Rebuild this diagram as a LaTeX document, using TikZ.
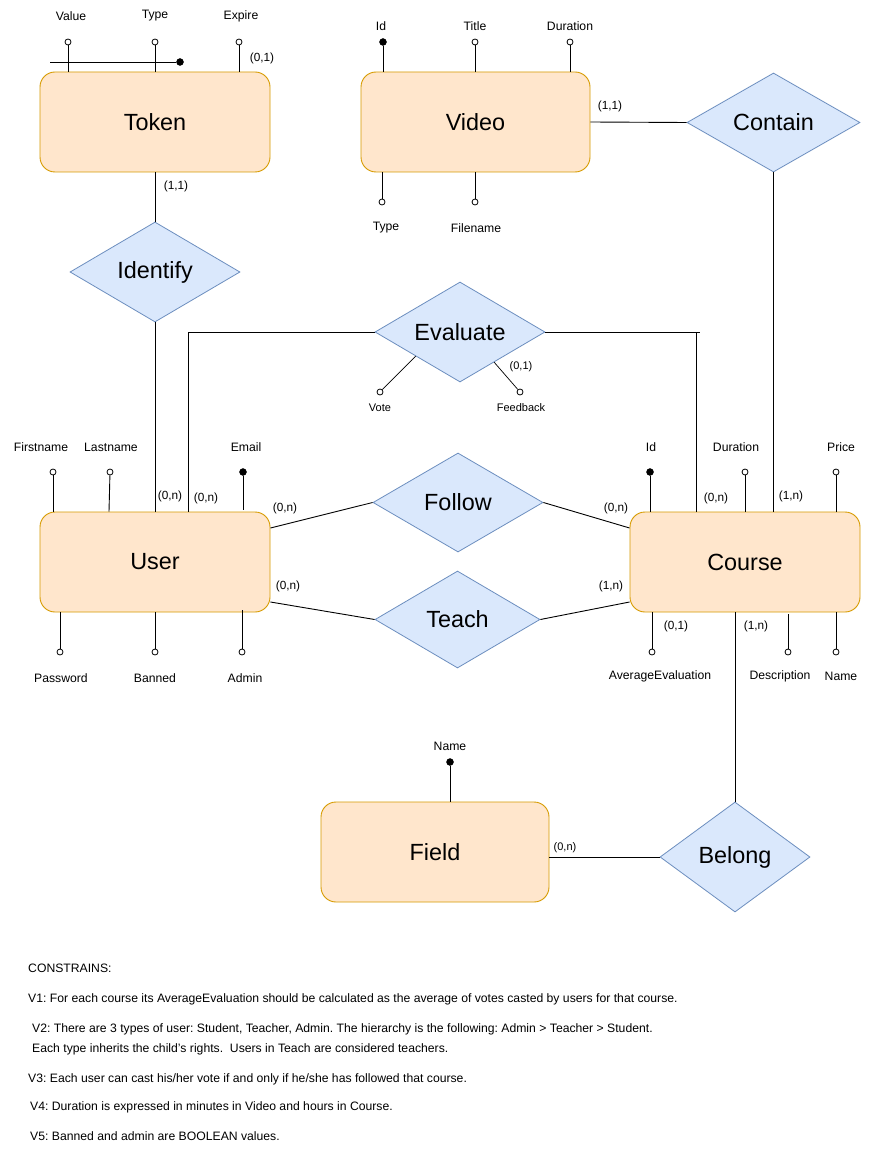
\documentclass[tikz,border=0pt]{standalone}
\usepackage{fontspec}
\setmainfont{Liberation Sans}
\usetikzlibrary{shapes.geometric,calc}
\definecolor{entfill}{HTML}{FFE6CC}
\definecolor{entdraw}{HTML}{D79B00}
\definecolor{relfill}{HTML}{DAE8FC}
\definecolor{reldraw}{HTML}{6C8EBF}
\frenchspacing
\begin{document}
\begin{tikzpicture}[x=1pt,y=-1pt,
 entity/.style={draw=entdraw,fill=entfill,rounded corners=15pt,minimum width=230pt,minimum height=100pt,inner sep=0pt,font=\fontsize{23.4}{28}\selectfont,line width=0.9pt},
 rel/.style={diamond,draw=reldraw,fill=relfill,inner sep=0pt,aspect=1.7,font=\fontsize{23.4}{28}\selectfont,line width=0.8pt},
 attr/.style={circle,draw=black,fill=white,inner sep=0pt,minimum size=6pt,line width=0.8pt},
 keyattr/.style={circle,draw=black,fill=black,inner sep=0pt,minimum size=7pt},
 lbl/.style={inner sep=0pt,font=\fontsize{12.2}{14}\selectfont},
 small/.style={inner sep=0pt,font=\fontsize{11}{13}\selectfont},
 card/.style={inner sep=0pt,font=\fontsize{11.8}{14}\selectfont},
 conn/.style={line width=0.9pt},
 note/.style={inner sep=0pt,anchor=base west,font=\fontsize{12.2}{14}\selectfont},
]
\useasboundingbox[fill=white] (0,0) rectangle (870,1150);

% entities
\node[entity] (token) at (155,122) {Token};
\node[entity,minimum width=229pt] (video) at (475.5,122) {Video};
\node[entity] (user) at (155,562) {User};
\node[entity] (course) at (745,562) {Course};
\node[entity,minimum width=228pt] (field) at (435,852) {Field};

% relations
\node[rel,minimum width=170pt,minimum height=100pt] (identify) at (155,272) {Identify};
\node[rel,minimum width=173pt,minimum height=99pt] (contain) at (773.5,122.5) {Contain};
\node[rel,minimum width=170pt,minimum height=100pt] (evaluate) at (460,332) {Evaluate};
\node[rel,minimum width=170pt,minimum height=99pt] (follow) at (458,502.5) {Follow};
\node[rel,minimum width=165pt,minimum height=97pt] (teach) at (457.5,619.5) {Teach};
\node[rel,minimum width=150pt,minimum height=110pt] (belong) at (735,857) {Belong};

% relation connectors
\draw[conn] (token.south) -- (identify.north);
\draw[conn] (identify.south) -- (user.north);
\draw[conn] (video.east) -- (contain.west);
\draw[conn] (contain.south) -- (contain.south |- course.north);
\coordinate (userEv) at ($(user.north)+(33,0)$);
\coordinate (courseEv) at ($(course.north)+(-49,0)$);
\coordinate (evEnd) at ($(courseEv |- evaluate.east)+(4,0)$);
\draw[conn] (evaluate.west) -| (userEv);
\draw[conn] (evaluate.east) -- (evEnd);
\draw[conn] (courseEv |- evaluate.east) -- (courseEv);
\coordinate (userFo) at ($(user.east)+(0,-34)$);
\coordinate (courseFo) at ($(course.west)+(0,-34)$);
\draw[conn] (userFo) -- (follow.west);
\draw[conn] (follow.east) -- (courseFo);
\coordinate (userTe) at ($(user.east)+(0,40)$);
\coordinate (courseTe) at ($(course.west)+(0,40)$);
\draw[conn] (userTe) -- (teach.west);
\draw[conn] (teach.east) -- (courseTe);
\draw[conn] (belong.north |- course.south) -- (belong.north);
\draw[conn] (belong.west) -- (belong.west -| field.east);

% Token attributes
\node[attr] (tValue) at (68,42) {};
\node[attr] (tType) at (155,42) {};
\node[attr] (tExpire) at (239,42) {};
\node[keyattr] (tKey) at (180,62) {};
\coordinate (tKeyL) at (50,62);
\draw[conn] (tValue) -- (tValue |- token.north);
\draw[conn] (tType) -- (tType |- token.north);
\draw[conn] (tExpire) -- (tExpire |- token.north);
\draw[conn] (tKeyL) -- (tKey);
\node[lbl] (tValueL) at (71,16) {Value};
\node[lbl] (tTypeL) at (155,16) {Type};
\node[lbl] (tExpireL) at (241,16) {Expire};
\node[card] (cTok1) at (262,58) {(0,1)};
\node[card] (cTok2) at (176,186) {(1,1)};

% Video attributes
\node[keyattr] (vId) at (383,42) {};
\node[attr] (vTitle) at (475,42) {};
\node[attr] (vDur) at (570,42) {};
\node[attr] (vType) at (382,202) {};
\node[attr] (vFile) at (475,202) {};
\draw[conn] (vId) -- (vId |- video.north);
\draw[conn] (vTitle) -- (vTitle |- video.north);
\draw[conn] (vDur) -- (vDur |- video.north);
\draw[conn] (vType) -- (vType |- video.south);
\draw[conn] (vFile) -- (vFile |- video.south);
\node[lbl] (vIdL) at (381,26) {Id};
\node[lbl] (vTitleL) at (475,26) {Title};
\node[lbl] (vDurL) at (570,26) {Duration};
\node[lbl] (vTypeL) at (386,228) {Type};
\node[lbl] (vFileL) at (476,228) {Filename};
\node[card] (cVid) at (610,106) {(1,1)};
\node[card] (cCon) at (791,496) {(1,n)};

% Evaluate attributes
\node[attr] (eVote) at (380,392) {};
\node[attr] (eFeed) at (520,392) {};
\draw[conn,line width=0.7pt] ($(evaluate.west)!0.48!(evaluate.south)$) -- (eVote);
\draw[conn,line width=0.7pt] ($(evaluate.south)!0.4!(evaluate.east)$) -- (eFeed);
\node[small] (eVoteL) at (380,408) {Vote};
\node[small] (eFeedL) at (521,408) {Feedback};
\node[small] (cEv) at (521,367) {(0,1)};

% User attributes
\node[attr] (uFirst) at (53,472) {};
\node[attr] (uLast) at (110,472) {};
\node[keyattr] (uEmail) at (243,472) {};
\node[attr] (uPass) at (60,652) {};
\node[attr] (uBan) at (155,652) {};
\node[attr] (uAdm) at (242,652) {};
\draw[conn] (uFirst) -- (uFirst |- user.north);
\draw[conn] (uLast) -- ($(uLast |- user.north)+(-1,0)$);
\draw[conn] (uEmail) -- ($(uEmail |- user.north)+(0,-2)$);
\draw[conn] (uPass) -- (uPass |- user.south);
\draw[conn] (uBan) -- (uBan |- user.south);
\draw[conn] (uAdm) -- ($(uAdm |- user.south)+(0,-2)$);
\node[lbl] (uFirstL) at (41,447) {Firstname};
\node[lbl] (uLastL) at (111,447) {Lastname};
\node[lbl] (uEmailL) at (246,447) {Email};
\node[lbl] (uPassL) at (61,678) {Password};
\node[lbl] (uBanL) at (155,678) {Banned};
\node[lbl] (uAdmL) at (245,678) {Admin};
\node[card] (cU1) at (170,496) {(0,n)};
\node[card] (cU2) at (206,498) {(0,n)};
\node[card] (cU3) at (285,508) {(0,n)};
\node[card] (cU4) at (288,586) {(0,n)};

% Course attributes
\node[keyattr] (cId) at (650,472) {};
\node[attr] (cDur) at (745,472) {};
\node[attr] (cPrice) at (836,472) {};
\node[attr] (cAvg) at (652,652) {};
\node[attr] (cDesc) at (788,652) {};
\node[attr] (cName) at (836,652) {};
\draw[conn] (cId) -- (cId |- course.north);
\draw[conn] (cDur) -- (cDur |- course.north);
\draw[conn] (cPrice) -- (cPrice |- course.north);
\draw[conn] (cAvg) -- (cAvg |- course.south);
\draw[conn] (cDesc) -- ($(cDesc |- course.south)+(0,2)$);
\draw[conn] (cName) -- (cName |- course.south);
\node[lbl] (cIdL) at (651,447) {Id};
\node[lbl] (cDurL) at (736,447) {Duration};
\node[lbl] (cPriceL) at (841,447) {Price};
\node[lbl] (cAvgL) at (660,676) {AverageEvaluation};
\node[lbl] (cDescL) at (780,676) {Description};
\node[lbl] (cNameL) at (841,676) {Name};
\node[card] (cC1) at (616,508) {(0,n)};
\node[card] (cC2) at (611,586) {(1,n)};
\node[card] (cC3) at (716,498) {(0,n)};
\node[card] (cC4) at (676,626) {(0,1)};
\node[card] (cC5) at (756,626) {(1,n)};

% Field attributes
\node[keyattr] (fName) at (450,762) {};
\draw[conn] (fName) -- (fName |- field.north);
\node[lbl] (fNameL) at (450,746) {Name};
\node[small] (cF) at (565,848) {(0,n)};

% constraints
\node[note] (n0) at (28,972) {CONSTRAINS:};
\node[note] (n1) at (28,1002) {V1: For each course its AverageEvaluation should be calculated as the average of votes casted by users for that course.};
\node[note] (n2) at (32,1032) {V2: There are 3 types of user: Student, Teacher, Admin. The hierarchy is the following: Admin > Teacher > Student.};
\node[note] (n2b) at (32,1052) {Each type inherits the child's rights.\ \ Users in Teach are considered teachers.};
\node[note] (n3) at (28,1082) {V3: Each user can cast his/her vote if and only if he/she has followed that course.};
\node[note] (n4) at (30,1110) {V4: Duration is expressed in minutes in Video and hours in Course.};
\node[note] (n5) at (30,1140) {V5: Banned and admin are BOOLEAN values.};
\end{tikzpicture}
\end{document}
